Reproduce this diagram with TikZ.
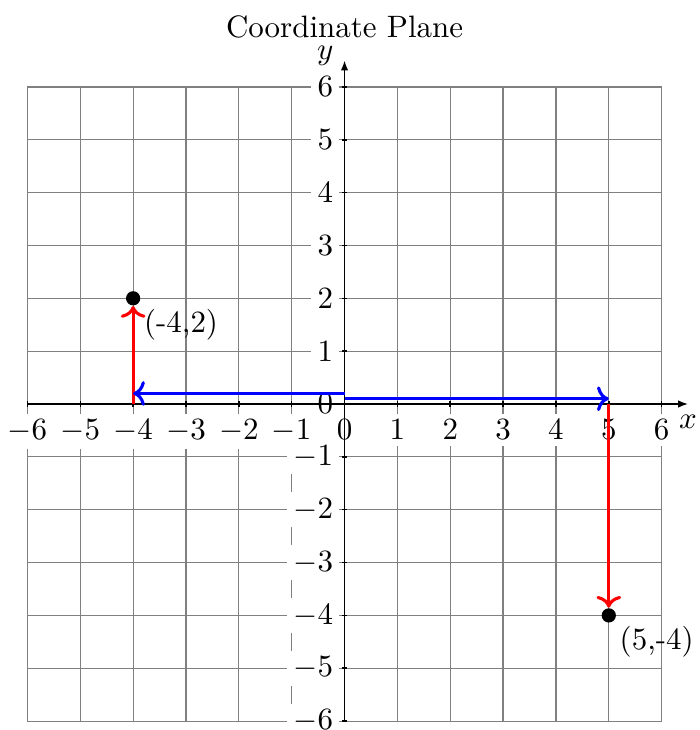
\documentclass[tikz,border=0pt]{standalone}
\usetikzlibrary{arrows.meta,positioning}
\definecolor{gridgray}{RGB}{128,128,128}
\tikzset{
  gridline/.style={gridgray, line width=0.4pt},
  ticklbl/.style={fill=white, inner sep=2pt},
  axisline/.style={black, line width=0.5pt, -{Latex[length=3.2pt,width=2.4pt]}},
  ticktick/.style={black, line width=0.5pt},
  vecarrow/.style={blue, line width=1pt, ->},
  legarrow/.style={red, line width=1pt, ->},
  ptdot/.style={circle, fill=black, inner sep=0pt, minimum size=4.6pt},
}
\begin{document}
\begin{tikzpicture}[x=0.6cm,y=0.6cm]
    \useasboundingbox (-6.519,-6.168) rectangle (6.708,7.644);
    % grid
    \foreach \i in {-6,...,6} {
      \draw[gridline] (\i,-6) -- (\i,6);
      \draw[gridline] (-6,\i) -- (6,\i);
    }
    % tick labels (white boxes cut the grid)
    \foreach \i in {-6,...,6} {
      \node[ticklbl, below=2.9pt] (xt\i) at (\i,0) {$\i$};
      \node[ticklbl, left=1.5pt] (yt\i) at (0,\i) {$\i$};
    }
    % axes
    \coordinate (xstart) at (-6,0);
    \coordinate (xend) at (6.5,0);
    \coordinate (ystart) at (0,-6);
    \coordinate (yend) at (0,6.5);
    \draw[axisline] (xstart) -- (xend) node[below] (xlab) {$x$};
    \draw[axisline] (ystart) -- (yend) node[left, yshift=1.5pt] (ylab) {$y$};
    \foreach \i in {-6,...,6} {
      \draw[ticktick] (\i,-0.05) -- (\i,0.05);
      \draw[ticktick] (-0.05,\i) -- (0.05,\i);
    }
    \node (title) at (0,7.13) {Coordinate Plane};
    % the two points
    \node[ptdot] (pa) at (-4,2) {};
    \node[ptdot] (pb) at (5,-4) {};
    \node[below right] (palab) at (-4,2) {(-4,2)};
    \node[below right] (pblab) at (5,-4) {(5,-4)};
    % vertical legs
    \coordinate (foota) at (-4,0);
    \coordinate (footb) at (5,0);
    \draw[legarrow] (foota) -- (pa);
    \draw[legarrow] (footb) -- (pb);
    % horizontal moves from the origin
    \coordinate (orga) at (0,0.2);
    \coordinate (enda) at (-4,0.2);
    \coordinate (orgb) at (0,0.1);
    \coordinate (endb) at (5,0.1);
    \draw[vecarrow] (orga) -- (enda);
    \draw[vecarrow] (orgb) -- (endb);
\end{tikzpicture}
\end{document}
